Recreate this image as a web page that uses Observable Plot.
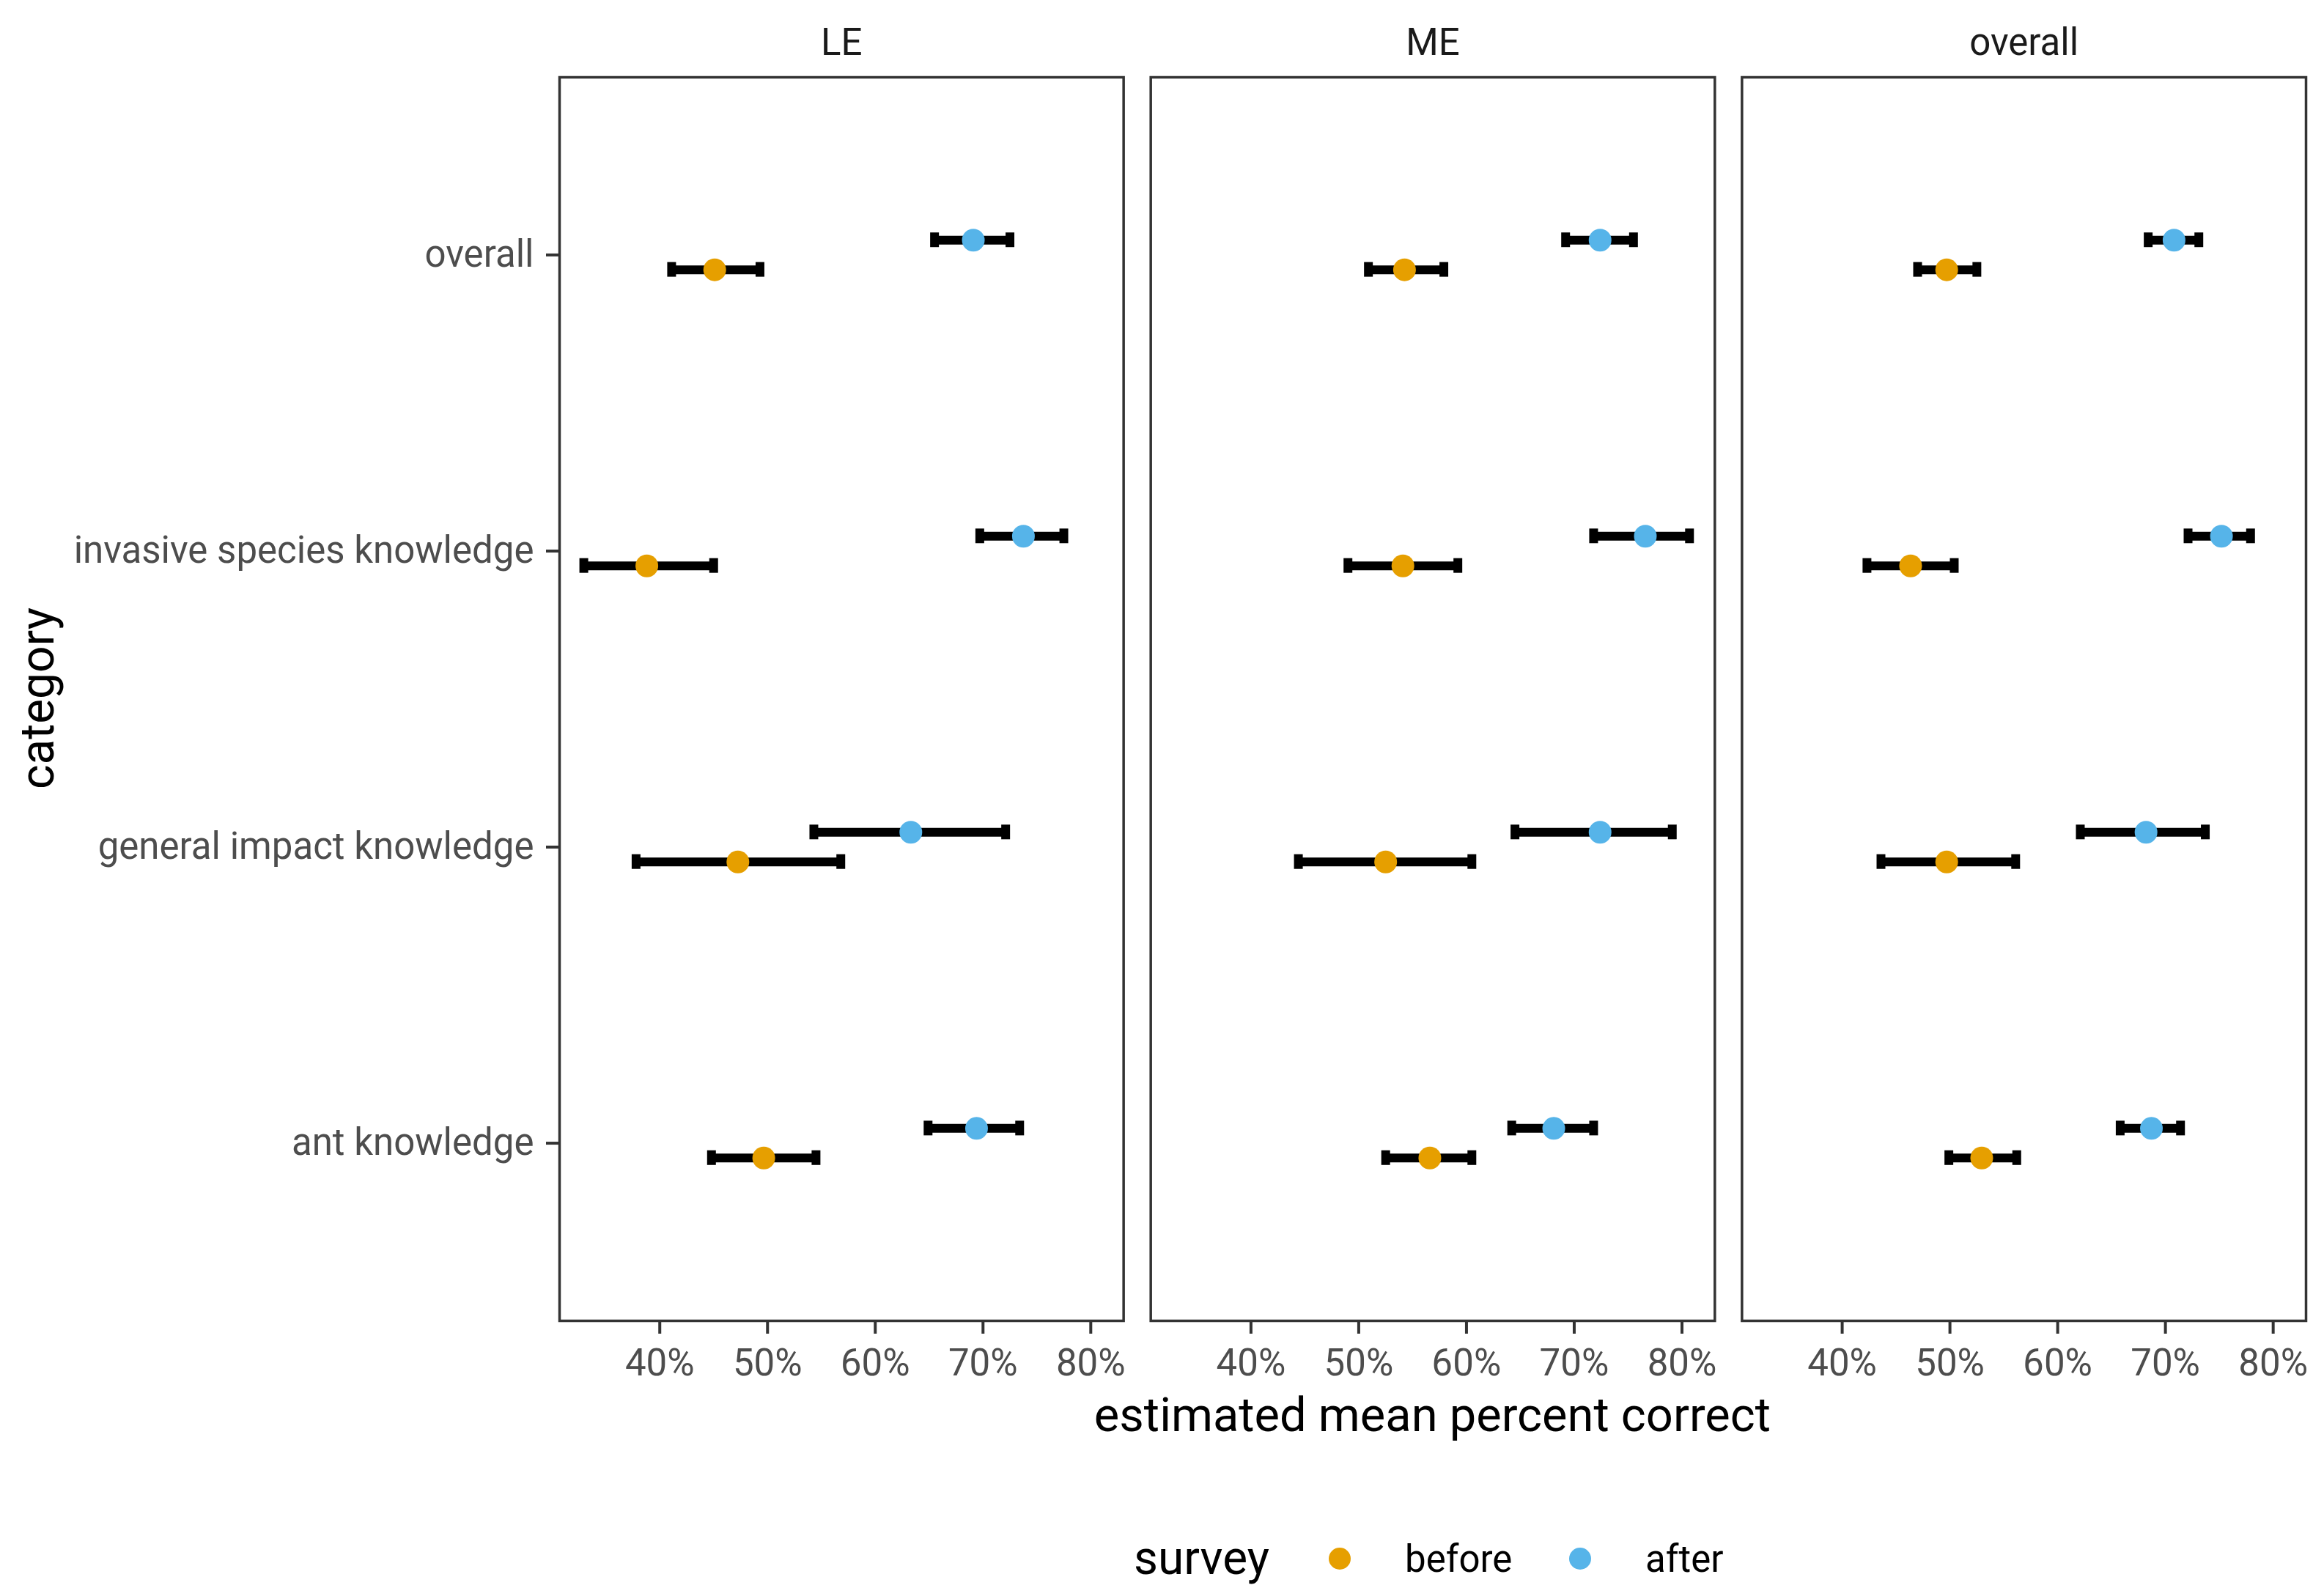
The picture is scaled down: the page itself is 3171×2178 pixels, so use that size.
<!DOCTYPE html>
<html>
<head>
<meta charset="utf-8">
<script src="https://cdn.jsdelivr.net/npm/d3@7"></script>
<script src="https://cdn.jsdelivr.net/npm/@observablehq/plot@0.6"></script>
<style>
  body { margin: 0; background: #fff; }
  #wrap { position: relative; width: 3171px; height: 2178px; background: #fff; font-family: Roboto, "Liberation Sans", sans-serif; }
  #wrap svg [aria-label^="x-axis"] path, #wrap svg [aria-label^="x-axis"] line,
  #wrap svg [aria-label^="y-axis"] path, #wrap svg [aria-label^="y-axis"] line { stroke: #333333; stroke-width: 4px; }
  #wrap svg [aria-label^="fx-axis"] text { fill: #1A1A1A; }
  .t { position: absolute; white-space: nowrap; line-height: 1; }
  .dot { position: absolute; width: 30px; height: 30px; border-radius: 50%; transform: translate(-50%, -50%); }
</style>
</head>
<body>
<div id="wrap"></div>
<script>
// ---- data (values in percent) ----
const panels = ["LE", "ME", "overall"];
const categories = ["overall", "invasive species knowledge", "general impact knowledge", "ant knowledge"];
const surveys = ["before", "after"];
const surveyColors = ["#E69F00", "#56B4E9"];
const xTicks = [40, 50, 60, 70, 80];

// rows: panels (LE, ME, overall); columns: categories in the order above
const beforeMean  = [[45.1, 38.8, 47.25, 49.65], [54.25, 54.1, 52.5, 56.6], [49.7, 46.35, 49.7, 52.95]];
const beforeLower = [[41.1, 32.95, 37.8, 44.8], [50.9, 49.0, 44.4, 52.5], [47.0, 42.3, 43.6, 49.9]];
const beforeUpper = [[49.3, 45.0, 56.8, 54.5], [57.9, 59.2, 60.5, 60.5], [52.5, 50.4, 56.1, 56.2]];
const afterMean   = [[69.1, 73.75, 63.3, 69.4], [72.4, 76.6, 72.4, 68.1], [70.8, 75.2, 68.2, 68.7]];
const afterLower  = [[65.5, 69.7, 54.3, 64.9], [69.2, 71.8, 64.5, 64.2], [68.4, 72.1, 62.1, 65.8]];
const afterUpper  = [[72.5, 77.5, 72.1, 73.4], [75.5, 80.7, 79.1, 71.8], [73.1, 77.9, 73.7, 71.4]];

function rows(survey, mean, lower, upper) {
  return panels.flatMap((p, i) => categories.map((c, j) => ({
    panel: p, category: c, survey, mean: mean[i][j], lower: lower[i][j], upper: upper[i][j]
  })));
}
const before = rows("before", beforeMean, beforeLower, beforeUpper);
const after = rows("after", afterMean, afterLower, afterUpper);

// ---- layout ----
const W = 3171, H = 1880;
const mTop = 105, mBottom = 78, mLeft = 763, mRight = 25;
const step = (H - mTop - mBottom) / (categories.length - 1 + 1.2);
const dodge = 0.05 * step;          // half of the dodge width (0.1 category step)
const capHalf = 10;                 // half-height of error-bar caps
const bandHalf = dodge;             // band = 0.1 step (paddingInner 0.9)
const capInset = bandHalf - capHalf;
const barWidth = 12;
const series = [[before, dodge], [after, -dodge]];

const chart = Plot.plot({
  width: W, height: H,
  marginTop: mTop, marginBottom: mBottom, marginLeft: mLeft, marginRight: mRight,
  style: { fontFamily: "Roboto, 'Liberation Sans', sans-serif", fontSize: "51px", color: "#4D4D4D", background: "white", overflow: "visible" },
  fx: { domain: panels, paddingInner: 37 / 806, paddingOuter: 0, round: false, axis: "top", tickSize: 0, tickPadding: 31, label: null },
  x: { domain: [30.7, 83.05], ticks: xTicks, tickFormat: d => d + "%", tickSize: 18, tickPadding: 20, label: null },
  y: { type: "band", domain: categories, paddingInner: 0.9, paddingOuter: 0.55, round: false, tickSize: 18, tickPadding: 17, label: null },
  color: { domain: surveys, range: surveyColors },
  marks: [
    Plot.frame({ stroke: "#333333", strokeWidth: 3.5 }),
    ...series.flatMap(([d, dy]) => [
      Plot.ruleY(d, { fx: "panel", y: "category", x1: "lower", x2: "upper", stroke: "black", strokeWidth: barWidth, dy }),
      Plot.tickX(d, { fx: "panel", y: "category", x: "lower", stroke: "black", strokeWidth: barWidth, insetTop: capInset, insetBottom: capInset, dy }),
      Plot.tickX(d, { fx: "panel", y: "category", x: "upper", stroke: "black", strokeWidth: barWidth, insetTop: capInset, insetBottom: capInset, dy })
    ]),
    ...series.map(([d, dy]) => Plot.dot(d, { fx: "panel", y: "category", x: "mean", fill: "survey", r: 15.5, dy }))
  ]
});

const wrap = document.getElementById("wrap");
wrap.appendChild(chart);

// axis titles
function addText(txt, css) {
  const el = document.createElement("div");
  el.className = "t";
  el.textContent = txt;
  Object.assign(el.style, css);
  wrap.appendChild(el);
  return el;
}
addText("estimated mean percent correct", { left: mLeft + "px", width: (W - mLeft - mRight) + "px", textAlign: "center", top: "1899px", fontSize: "65px", color: "#000" });
addText("category", { left: "52px", top: "953px", fontSize: "64px", color: "#000", transform: "translate(-50%, -50%) rotate(-90deg)" });

// legend
const legendY = 2127;
addText("survey", { left: "1547px", top: legendY + "px", fontSize: "64px", color: "#000", transform: "translateY(-50%)" });
const legendDots = [1828, 2156];
const legendTextX = [1917, 2245];
surveys.forEach((s, i) => {
  const dot = document.createElement("div");
  dot.className = "dot";
  Object.assign(dot.style, { left: legendDots[i] + "px", top: legendY + "px", background: surveyColors[i] });
  wrap.appendChild(dot);
  addText(s, { left: legendTextX[i] + "px", top: legendY + "px", fontSize: "51px", color: "#000", transform: "translateY(-50%)" });
});
</script>
</body>
</html>
